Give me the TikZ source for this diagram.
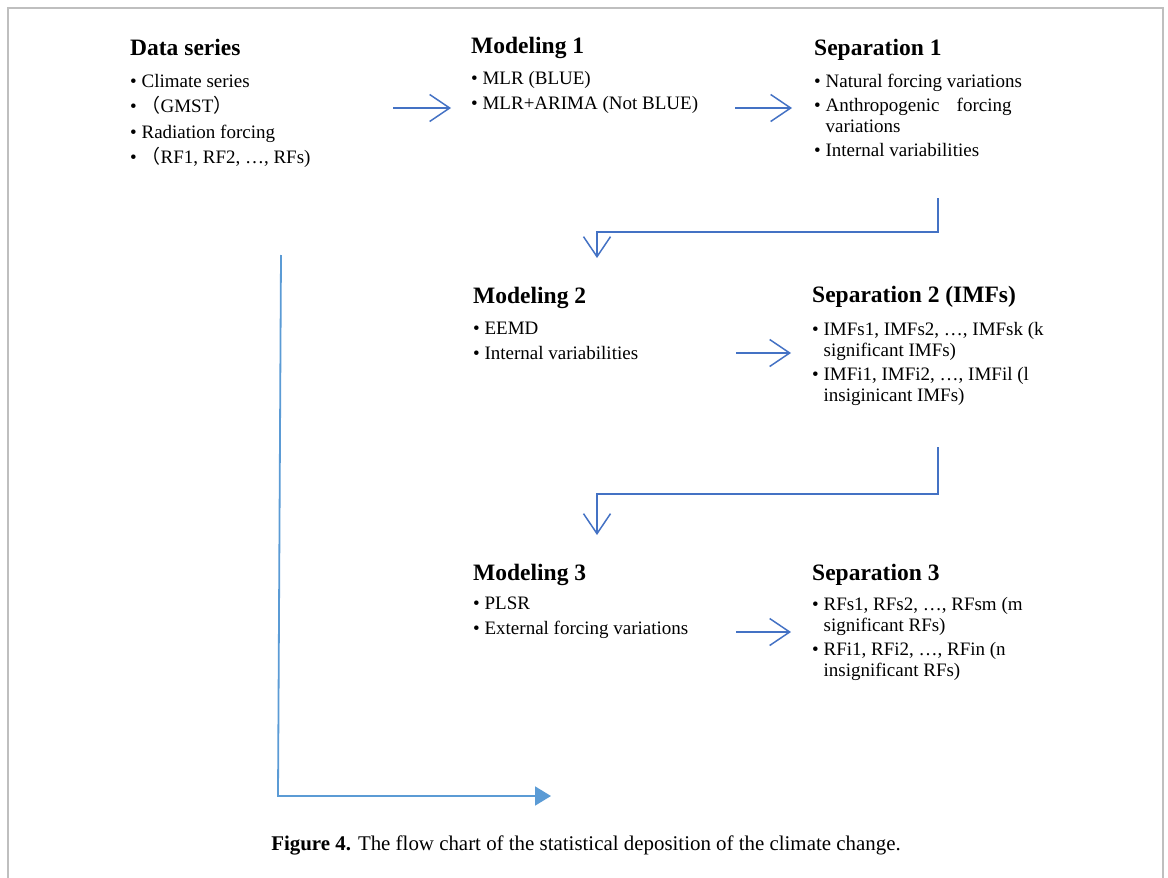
\documentclass[tikz,border=0pt]{standalone}
\usepackage{fontspec}
\setmainfont{Liberation Serif}
\newfontfamily\cjk{Noto Sans CJK SC}
\usepackage{tikz}
\usetikzlibrary{arrows.meta}
\usepackage{xcolor}

\definecolor{arrowblue}{HTML}{4472C4}
\definecolor{lineblue}{HTML}{5B9BD5}
\definecolor{framegray}{HTML}{BFBFBF}

\newcommand{\itm}{\textbullet\ }
\newcommand{\hang}{\hphantom{\textbullet\ }}

\begin{document}
\begin{tikzpicture}[x=1pt, y=-1pt,
  head/.style={anchor=base west, inner sep=0pt, font=\bfseries\fontsize{23.5}{26}\selectfont},
  items/.style={anchor=north west, inner sep=0pt, align=left, font=\fontsize{19}{21}\selectfont},
  flow/.style={draw=arrowblue, line width=1.5pt, -{Straight Barb[length=20pt, width=27pt]}},
  longflow/.style={draw=lineblue, line width=1.8pt, -{Triangle[length=16pt, width=19pt]}}]

\useasboundingbox (0,0) rectangle (1168,878);

% frame
\draw[framegray, line width=1.5pt] (8,878) -- (8,8) -- (1163,8) -- (1163,878);

% Data series
\node[head] (dsT) at (130,55) {Data series};
\node[items] (dsL) at (130,74) {\itm Climate series\\[4.5pt] \itm{\cjk （}GMST{\cjk ）}\\[4.5pt] \itm Radiation forcing\\[4.5pt] \itm{\cjk （}RF1, RF2, …, RFs)};

% Modeling 1
\node[head] (m1T) at (471,53) {Modeling 1};
\node[items] (m1L) at (471,71) {\itm MLR (BLUE)\\[4pt] \itm MLR+ARIMA (Not BLUE)};

% Separation 1
\node[head] (s1T) at (814,55) {Separation 1};
\node[items] (s1L) at (814,74) {\itm Natural forcing variations\\[3pt] \itm\makebox[186pt][s]{Anthropogenic forcing}\\ \hang variations\\[3pt] \itm Internal variabilities};

% Modeling 2
\node[head] (m2T) at (473,303) {Modeling 2};
\node[items] (m2L) at (473,322) {\itm EEMD\\[4pt] \itm Internal variabilities};

% Separation 2
\node[head] (s2T) at (812,302) {Separation 2 (IMFs)};
\node[items] (s2L) at (812,322) {\itm IMFs1, IMFs2, …, IMFsk (k\\ \hang significant IMFs)\\[3pt] \itm IMFi1, IMFi2, …, IMFil (l\\ \hang insiginicant IMFs)};

% Modeling 3
\node[head] (m3T) at (473,580) {Modeling 3};
\node[items] (m3L) at (473,597) {\itm PLSR\\[4pt] \itm External forcing variations};

% Separation 3
\node[head] (s3T) at (812,580) {Separation 3};
\node[items] (s3L) at (812,597) {\itm RFs1, RFs2, …, RFsm (m\\ \hang significant RFs)\\[3pt] \itm RFi1, RFi2, …, RFin (n\\ \hang insignificant RFs)};

% arrows
\coordinate (a1s) at (393,108); \coordinate (a1e) at (451,108);
\coordinate (a2s) at (735,108); \coordinate (a2e) at (792,108);
\coordinate (a3s) at (736,353); \coordinate (a3e) at (791,353);
\coordinate (a4s) at (736,632); \coordinate (a4e) at (791,632);
\draw[flow] (a1s) -- (a1e);
\draw[flow] (a2s) -- (a2e);
\draw[flow] (a3s) -- (a3e);
\draw[flow] (a4s) -- (a4e);

\coordinate (e1s) at (938,198); \coordinate (e1m) at (597,232); \coordinate (e1e) at (597,258);
\coordinate (e2s) at (938,447); \coordinate (e2m) at (597,494); \coordinate (e2e) at (597,535);
\draw[flow] (e1s) |- (e1m) -- (e1e);
\draw[flow] (e2s) |- (e2m) -- (e2e);

\coordinate (ls) at (281,255); \coordinate (lc) at (278,796); \coordinate (le) at (551,796);
\draw[longflow] (ls) -- (lc) -- (le);

% caption
\node[anchor=base, inner sep=0pt, font=\fontsize{20.9}{24}\selectfont] (cap) at (586,850) {\textbf{Figure 4.} The flow chart of the statistical deposition of the climate change.};

\end{tikzpicture}
\end{document}
